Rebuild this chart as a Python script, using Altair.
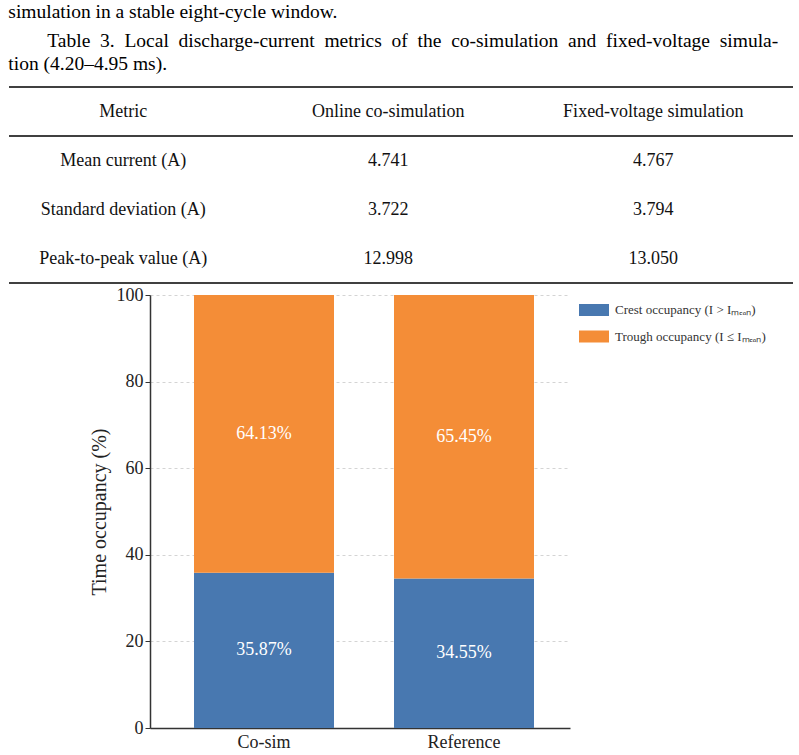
import altair as alt
import pandas as pd

SERIF = "Liberation Serif"

# ---- text above the chart ----
para_line1 = "simulation in a stable eight-cycle window."
caption_line2 = "Table 3. Local discharge-current metrics of the co-simulation and fixed-voltage simula-"
caption_line3 = "tion (4.20\u20134.95 ms)."

# ---- table ----
table_columns = ["Metric", "Online co-simulation", "Fixed-voltage simulation"]
metric_names = ["Mean current (A)", "Standard deviation (A)", "Peak-to-peak value (A)"]
cosim_values = ["4.741", "3.722", "12.998"]
fixed_values = ["4.767", "3.794", "13.050"]
row_keys = ["h", "r1", "r2", "r3"]

# ---- bar chart ----
categories = ["Co-sim", "Reference"]
crest_pct = [35.87, 34.55]
trough_pct = [64.13, 65.45]
series_names = ["Crest occupancy (I > I\u2098\u2091\u2090\u2099)", "Trough occupancy (I \u2264 I\u2098\u2091\u2090\u2099)"]
series_colors = ["#4878B0", "#F48D37"]
y_ticks = [0, 20, 40, 60, 80, 100]
y_title = "Time occupancy (%)"

# justified first caption line: indent + widened word gaps
caption_lines = [
    "\u200b" + "\u00a0" * 8 + caption_line2.replace(" ", " \u00a0"),
    caption_line3,
]

# ---------------- table chart ----------------
cells = []
for j, name in enumerate(table_columns):
    cells.append({"row": "h", "col": j, "text": name})
for i in range(len(metric_names)):
    r = row_keys[i + 1]
    cells.append({"row": r, "col": 0, "text": metric_names[i]})
    cells.append({"row": r, "col": 1, "text": cosim_values[i]})
    cells.append({"row": r, "col": 2, "text": fixed_values[i]})
cell_df = pd.DataFrame(cells)

row_scale = alt.Scale(type="band", domain=row_keys, paddingInner=0, paddingOuter=0)
col_scale = alt.Scale(type="point", domain=[0, 1, 2], padding=0.479, align=0.45)

table_text = alt.Chart(cell_df).mark_text(
    font=SERIF, fontSize=18, color="#111"
).encode(
    x=alt.X("col:O", scale=col_scale, axis=None),
    y=alt.Y("row:N", scale=row_scale, axis=None),
    text="text:N",
)

rule_top = alt.Chart(pd.DataFrame({"row": ["h"]})).mark_rule(
    color="#000", strokeWidth=1.4
).encode(y=alt.Y("row:N", scale=row_scale, axis=None, bandPosition=0))

rule_low = alt.Chart(pd.DataFrame({"row": ["h", "r3"]})).mark_rule(
    color="#000", strokeWidth=1.4
).encode(y=alt.Y("row:N", scale=row_scale, axis=None, bandPosition=1))

table_chart = alt.layer(rule_top, rule_low, table_text).properties(
    width=784,
    height=196,
    title=alt.TitleParams(
        text=[para_line1],
        subtitle=caption_lines,
        anchor="start",
        font=SERIF,
        fontSize=19.5,
        fontWeight="normal",
        color="#000",
        subtitleFont=SERIF,
        subtitleFontSize=19.5,
        subtitleColor="#000",
        subtitleLineHeight=23,
        subtitlePadding=9,
        offset=12,
    ),
)

# ---------------- bar chart ----------------
rows = []
for c, v in zip(categories, crest_pct):
    rows.append({"category": c, "series": series_names[0], "value": v, "order": 0})
for c, v in zip(categories, trough_pct):
    rows.append({"category": c, "series": series_names[1], "value": v, "order": 1})
bar_df = pd.DataFrame(rows)

x_axis = alt.Axis(
    title=None, labelAngle=0, ticks=False, labelFontSize=18, labelPadding=5,
    domainColor="#333", domainWidth=1.5, labelColor="#222", grid=False,
)
y_axis = alt.Axis(
    values=y_ticks, title=y_title, titleFontSize=20,
    titlePadding=7, labelFontSize=18, labelPadding=2, tickSize=5,
    tickColor="#333", domainColor="#333", domainWidth=1.5,
    grid=True, gridDash=[3, 3], gridColor="#d4d4d4", labelColor="#222",
    titleColor="#222",
)
x_scale = alt.Scale(paddingInner=0.3, paddingOuter=0.2, align=0.55)
y_scale = alt.Scale(domain=[0, 100], nice=False)

bars = alt.Chart(bar_df).mark_bar().encode(
    x=alt.X("category:N", sort=categories, scale=x_scale, axis=x_axis),
    y=alt.Y("value:Q", stack="zero", scale=y_scale, axis=y_axis),
    color=alt.Color(
        "series:N",
        scale=alt.Scale(domain=series_names, range=series_colors),
        legend=alt.Legend(
            title=None, orient="none", legendX=429, legendY=0,
            symbolType="M-1,-0.4H1V0.4H-1Z", symbolSize=900, symbolStrokeWidth=0,
            symbolOpacity=1, labelFont=SERIF, labelFontSize=13, labelColor="#333",
            rowPadding=4.5, labelOffset=6,
        ),
    ),
    order=alt.Order("order:Q"),
)

labels = alt.Chart(bar_df).transform_stack(
    stack="value", groupby=["category"], as_=["y0", "y1"],
    sort=[alt.SortField("order", order="ascending")],
).transform_calculate(
    mid="(datum.y0 + datum.y1) / 2",
    label="format(datum.value, '.2f') + '%'",
).mark_text(font=SERIF, fontSize=18, color="white").encode(
    x=alt.X("category:N", sort=categories, scale=x_scale, axis=x_axis),
    y=alt.Y("mid:Q", scale=y_scale, axis=y_axis),
    text="label:N",
)

bar_chart = alt.layer(bars, labels).properties(width=420, height=433)

spacer = alt.Chart(pd.DataFrame({"t": [""]})).mark_text().encode(
    text="t:N"
).properties(width=80, height=433)

bottom = alt.hconcat(spacer, bar_chart, spacing=0).resolve_scale(
    color="independent"
).resolve_legend(color="independent")

chart = alt.vconcat(table_chart, bottom, spacing=2).resolve_scale(
    color="independent"
).resolve_legend(color="independent").properties(
    padding={"left": 8, "top": 2, "right": 0, "bottom": 0},
    background="white",
).configure_view(stroke=None).configure_axis(
    labelFont=SERIF, titleFont=SERIF, titleFontWeight="normal"
)

chart.save("out.html", embed_options={"renderer": "svg", "actions": False})
